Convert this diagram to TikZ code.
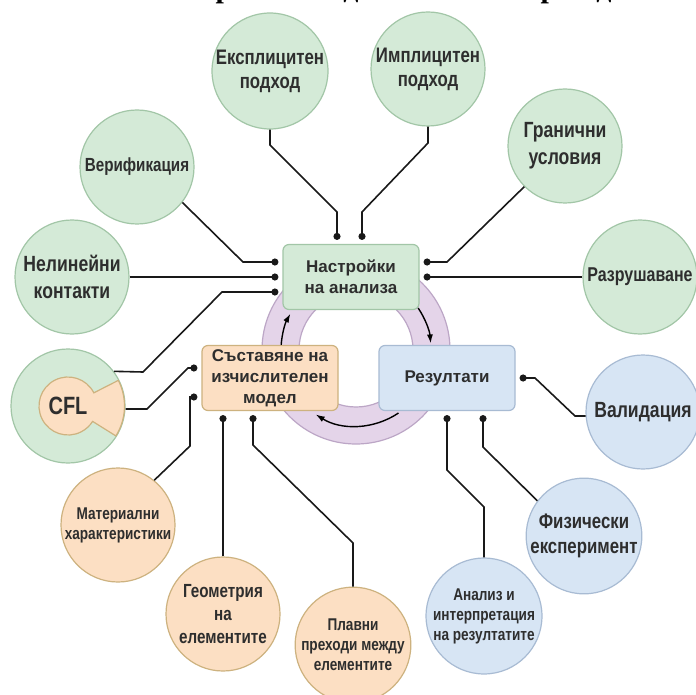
\documentclass[tikz,border=0pt]{standalone}
\usepackage{fontspec}
\setmainfont{Liberation Sans}
\newfontfamily\narrowfont{Liberation Sans}[FakeStretch=0.8]
\newfontfamily\titlefont{Liberation Serif}
\usetikzlibrary{arrows.meta}

\definecolor{grfill}{HTML}{D4EAD7}
\definecolor{grline}{HTML}{A2C6A7}
\definecolor{orfill}{HTML}{FCDFC3}
\definecolor{orline}{HTML}{CDB27F}
\definecolor{blfill}{HTML}{D7E5F4}
\definecolor{blline}{HTML}{A8BBD3}
\definecolor{pufill}{HTML}{E4D4E9}
\definecolor{puline}{HTML}{BCA6C6}
\definecolor{txt}{HTML}{2E2E2E}

\newcommand\cfont[2]{\narrowfont\bfseries\fontsize{#1}{#2}\selectfont}

\tikzset{
  bubble/.style={circle, minimum size=114pt, inner sep=0pt, line width=1.2pt,
    align=center, text=txt},
  settingbub/.style={bubble, fill=grfill, draw=grline},
  modelbub/.style={bubble, fill=orfill, draw=orline},
  resultbub/.style={bubble, fill=blfill, draw=blline},
  stage/.style={rounded corners=6pt, minimum width=136pt, minimum height=65pt,
    line width=1.2pt, align=center, text=txt,
    font=\bfseries\fontsize{17}{21}\selectfont},
  link/.style={line width=1.6pt, black!90},
  dotlink/.style={link, -{Circle[length=7pt]}, shorten >=4pt},
  cycle/.style={line width=1.4pt, -{Latex[length=9pt,width=6pt]}},
  titlebit/.style={font=\titlefont\bfseries\fontsize{30}{30}\selectfont,
    anchor=base, inner sep=0pt}
}

\begin{document}
\begin{tikzpicture}[x=1pt,y=-1pt]
\useasboundingbox[fill=white] (0,0) rectangle (696,695);

% title, cut off at the top edge
\begin{scope}
\clip (0,0) rectangle (696,9);
\node[titlebit] (t1) at (224,-2) {р};
\node[titlebit] (t2) at (351,-2) {д};
\node[titlebit] (t3) at (549,-2) {р};
\node[titlebit] (t4) at (604,-2) {д};
\end{scope}

% ring behind the three stages
\coordinate (c) at (356,350);
\fill[pufill, even odd rule] (c) circle[radius=94] (c) circle[radius=57];
\draw[puline, line width=1.2pt] (c) circle[radius=94] (c) circle[radius=57];

\node[stage, fill=grfill, draw=grline] (set) at (351,277) {Настройки\\на анализа};
\node[stage, fill=orfill, draw=orline] (mod) at (270,378) {Съставяне на\\изчислителен\\модел};
\node[stage, fill=blfill, draw=blline] (res) at (447,378) {Резултати};

\draw[cycle] (c) ++(-176:75) arc[start angle=-176, end angle=-151, radius=75];
\draw[cycle] (c) ++(-34:75) arc[start angle=-34, end angle=-5, radius=75];
\draw[cycle] (c) ++(56:76) arc[start angle=56, end angle=122, radius=76];

% settings
\node[settingbub, font={\cfont{21}{24}}] (eks) at (270,71) {Експлицитен\\подход};
\node[settingbub, font={\cfont{21}{24}}] (imp) at (428,69) {Имплицитен\\подход};
\node[settingbub, font={\cfont{22}{27}}] (gra) at (565,146) {Гранични\\условия};
\node[settingbub, font={\cfont{20}{24}}] (raz) at (640,277) {Разрушаване};
\node[settingbub, font={\cfont{19}{23}}] (ver) at (137,167) {Верификация};
\node[settingbub, font={\cfont{22}{27}}] (nel) at (72,277) {Нелинейни\\контакти};
\node[settingbub] (cfl) at (68,406) {};
\filldraw[fill=orfill, draw=orline, line width=1.2pt] (cfl.center) ++(-27:29)
  arc[start angle=-27, end angle=-328, radius=29] -- ++(-328:27.5)
  arc[start angle=-328, end angle=-387, radius=56.5] -- cycle;
\node[text=txt, font={\cfont{25}{30}}] (cfltext) at (cfl.center) {CFL};

% model
\node[modelbub, font={\cfont{17}{20}}] (mat) at (118,525) {Материални\\характеристики};
\node[modelbub, font={\cfont{19}{23}}] (geo) at (223,614) {Геометрия\\на\\елементите};
\node[modelbub, font={\cfont{17}{20}}] (pla) at (353,645) {Плавни\\преходи между\\елементите};

% results
\node[resultbub, font={\cfont{22}{26}}] (val) at (643,412) {Валидация};
\node[resultbub, font={\cfont{21}{25}}] (fiz) at (584,536) {Физически\\експеримент};
\node[resultbub, font={\cfont{17}{20}}] (ana) at (484,616) {Анализ и\\интерпретация\\на резултатите};

% connectors
\draw[dotlink] (eks.south) -- (270,145) -- (337,212) -- ([xshift=-14pt]set.north);
\draw[dotlink] (imp.south) -- (428,143) -- (362,212) -- ([xshift=11pt]set.north);
\draw[dotlink] (gra.-135) -- (447,262) -- ([yshift=15pt]set.east);
\draw[dotlink] (raz.west) -- (set.east);
\draw[dotlink] (ver.-38) -- (243,262) -- ([yshift=15pt]set.west);
\draw[dotlink] (nel.east) -- (set.west);
\draw[dotlink] (cfl.37) -- (143,372) -- (222,292) -- ([yshift=-15pt]set.west);

\draw[dotlink] (cfl.-3) -- (147,409) -- (188,368) -- ([yshift=10pt]mod.west);
\draw[dotlink] (mat.51) -- (190,446) -- (190,397) -- ([yshift=-19pt]mod.west);
\draw[dotlink] (geo.north) -- ([xshift=-47pt]mod.south);
\draw[dotlink] (pla.north) -- (353,543) -- (253,445) -- ([xshift=-17pt]mod.south);

\draw[dotlink] (val.184) -- (575,416) -- (535,378) -- (res.east);
\draw[dotlink] (ana.north) -- (484,507) -- (447,470) -- (res.south);
\draw[dotlink] (fiz.143) -- (483,447) -- ([xshift=36pt]res.south);
\end{tikzpicture}
\end{document}
